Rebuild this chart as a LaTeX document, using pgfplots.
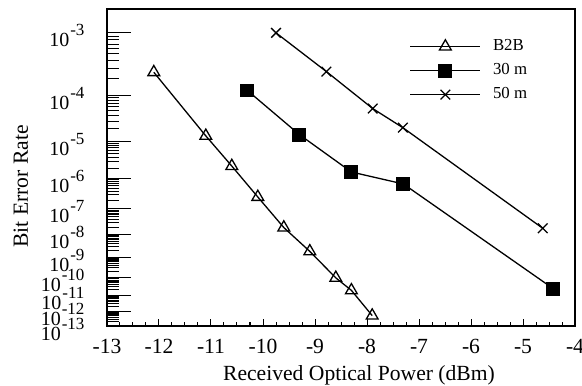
\documentclass[border=0pt]{standalone}
\usepackage{pgfplots}
\pgfplotsset{compat=1.18}
\usepackage{fontspec}
\setmainfont{Liberation Serif}

% BER exponent (log10 BER) -> -ln(Q), Q = inverse Gaussian tail; result in \pgfmathresult
\newcommand\berqstep{%
  \pgfmathparse{sqrt(\myL-2*ln(\myX*2.506628)+2*ln(1-1/(\myX*\myX)+3/(\myX*\myX*\myX*\myX)))}\let\myX\pgfmathresult}
\newcommand\berqcalc[1]{%
  \edef\myIn{#1}%
  \pgfmathparse{-4.605170186*(\myIn)}\let\myL\pgfmathresult
  \pgfmathparse{sqrt(\myL)}\let\myX\pgfmathresult
  \berqstep\berqstep\berqstep\berqstep\berqstep\berqstep
  \pgfmathparse{-ln(\myX)}}

\berqcalc{-13}\global\let\yMin\pgfmathresult
\berqcalc{-2.699}\global\let\yMax\pgfmathresult
\gdef\ymajorlist{}
\foreach \n in {3,...,13}{\berqcalc{-\n}\xdef\ymajorlist{\ymajorlist\ifx\ymajorlist\empty\else,\fi\pgfmathresult}}
\gdef\yminorlist{}
\foreach \n in {4,...,13}{\foreach \k in {2,...,9}{\pgfmathparse{log10(\k)-\n}\berqcalc{\pgfmathresult}\xdef\yminorlist{\yminorlist\ifx\yminorlist\empty\else,\fi\pgfmathresult}}}

\newcommand\bexp[1]{10\raisebox{11pt}{\fontsize{17pt}{17pt}\selectfont\kern1pt -#1}}

\begin{document}
\begin{tikzpicture}
\begin{axis}[
  name=ax,
  scale only axis, width=468pt, height=317pt,
  xmin=-13, xmax=-4, ymin=\yMin, ymax=\yMax,
  y filter/.code={\berqcalc{\pgfmathresult}},
  xtick={-13,-12,-11,-10,-9,-8,-7,-6,-5,-4},
  xticklabels={-13,-12,-11,-10,-9,-8,-7,-6,-5,-4},
  minor x tick num=3,
  ytick/.expand once=\ymajorlist,
  yticklabels={\bexp{3},\bexp{4},\bexp{5},\bexp{6},\bexp{7},\bexp{8},\bexp{9},\bexp{10},\bexp{11},\bexp{12},\bexp{13}},
  minor ytick/.expand once=\yminorlist,
  tick align=inside, xtick pos=left, ytick pos=left,
  x tick style={black, line width=1pt, /pgfplots/major tick length=7pt, /pgfplots/minor tick length=4pt},
  y tick style={black, line width=1pt, /pgfplots/major tick length=24pt, /pgfplots/minor tick length=12pt},
  axis line style={line width=1.6pt},
  x tick label style={font=\fontsize{21.6pt}{22pt}\selectfont, yshift=-10pt},
  y tick label style={font=\fontsize{20pt}{20pt}\selectfont, xshift=-19pt, yshift=-3pt},
  xlabel={Received Optical Power (dBm)},
  ylabel={Bit Error Rate},
  label style={font=\fontsize{21.6pt}{22pt}\selectfont},
  xlabel style={yshift=-5pt, xshift=18pt},
  ylabel style={at={(axis description cs:-0.184,0.44)}, anchor=center},
  legend image code/.code={\draw[#1,mark repeat=2,mark phase=2] plot coordinates {(0pt,0pt) (35pt,0pt) (70pt,0pt)}; \path (80pt,0pt);},
  legend cell align=left,
  legend style={draw=none, fill=none, at={(0.64,0.92)}, anchor=north west,
    font=\fontsize{16.8pt}{17pt}\selectfont, row sep=4pt,
    nodes={inner sep=2pt, text height=12pt, text depth=4pt}},
]
\addplot[black, line width=1.3pt, mark=triangle, mark size=6.8pt, mark options={solid, line width=1.3pt, fill=white}] coordinates {
  (-12.1,-3.59) (-11.1,-4.86) (-10.6,-5.64) (-10.1,-6.59) (-9.6,-7.71)
  (-9.1,-8.73) (-8.6,-10.04) (-8.3,-10.73) (-7.9,-12.29)};
\addlegendentry{B2B}
\addplot[black, line width=1.3pt, mark=square*, mark size=6.3pt, mark options={solid, fill=black}] coordinates {
  (-10.3,-3.91) (-9.3,-4.83) (-8.3,-5.81) (-7.3,-6.17) (-4.42,-10.63)};
\addlegendentry{30 m}
\addplot[black, line width=1.3pt, mark=x, mark size=6.8pt, mark options={solid, line width=1.3pt}] coordinates {
  (-9.75,-3.0) (-8.78,-3.58) (-7.89,-4.26) (-7.31,-4.67) (-4.62,-7.74)};
\addlegendentry{50 m}
\end{axis}
\pgfresetboundingbox
\useasboundingbox ([xshift=-107pt,yshift=9pt]ax.north west) rectangle ([xshift=7pt,yshift=-59pt]ax.south east);
\end{tikzpicture}
\end{document}
